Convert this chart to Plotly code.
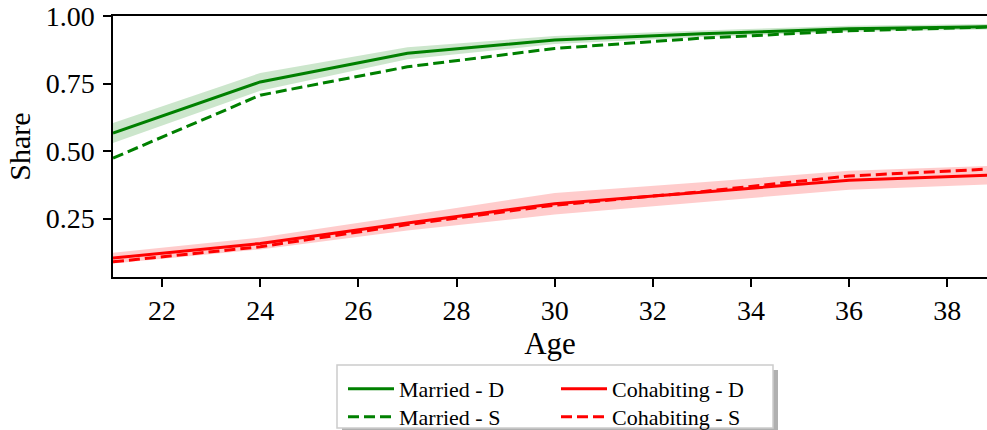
import plotly.graph_objects as go

ages = [21, 24, 27, 30, 33, 36, 39]
married_d = [0.567, 0.756, 0.862, 0.911, 0.934, 0.953, 0.961]
married_d_err = [0.037, 0.033, 0.022, 0.015, 0.012, 0.011, 0.010]
married_s = [0.474, 0.707, 0.812, 0.880, 0.918, 0.945, 0.960]
cohab_d = [0.104, 0.158, 0.234, 0.305, 0.348, 0.392, 0.412]
cohab_d_err = [0.020, 0.022, 0.028, 0.040, 0.037, 0.035, 0.034]
cohab_s = [0.090, 0.146, 0.228, 0.300, 0.350, 0.408, 0.435]

x_range = [21, 38.81]
y_range = [0.034, 1.0]
y_ticks = [0.25, 0.50, 0.75, 1.00]
x_ticks = [22, 24, 26, 28, 30, 32, 34, 36, 38]

GREEN = "#008000"
RED = "#ff0000"
FONT = "Liberation Serif, serif"

fig = go.Figure()


def band(y, err, color):
    upper = [v + e for v, e in zip(y, err)]
    lower = [v - e for v, e in zip(y, err)]
    fig.add_trace(go.Scatter(
        x=ages + ages[::-1], y=upper + lower[::-1],
        fill="toself", fillcolor=color, line=dict(width=0),
        mode="lines", showlegend=False, hoverinfo="skip"))


band(married_d, married_d_err, "rgba(0,128,0,0.2)")
band(cohab_d, cohab_d_err, "rgba(255,0,0,0.2)")

fig.add_trace(go.Scatter(x=ages, y=married_d, mode="lines", name="Married - D",
                         line=dict(color=GREEN, width=3), legend="legend"))
fig.add_trace(go.Scatter(x=ages, y=married_s, mode="lines", name="Married - S",
                         line=dict(color=GREEN, width=3, dash="11px,5px"), legend="legend2"))
fig.add_trace(go.Scatter(x=ages, y=cohab_d, mode="lines", name="Cohabiting - D",
                         line=dict(color=RED, width=3), legend="legend3"))
fig.add_trace(go.Scatter(x=ages, y=cohab_s, mode="lines", name="Cohabiting - S",
                         line=dict(color=RED, width=3, dash="11px,5px"), legend="legend4"))

L, R, T, B = 113, 0, 16, 153
W, H = 987, 430
pw, ph = W - L - R, H - T - B


def px(xp):
    return (xp - L) / pw


def py(yp):
    return (H - B - yp) / ph


# legend frame with shadow
fig.add_shape(type="rect", xref="paper", yref="paper",
              x0=px(342), x1=px(778), y0=py(433), y1=py(370),
              fillcolor="#b0b0b0", line=dict(width=0), layer="above")
fig.add_shape(type="rect", xref="paper", yref="paper",
              x0=px(337), x1=px(773), y0=py(428), y1=py(365),
              fillcolor="white", line=dict(color="#cccccc", width=1.5), layer="above")

legend_common = dict(
    orientation="v", yanchor="top", xanchor="left",
    bgcolor="rgba(0,0,0,0)", borderwidth=0,
    font=dict(family=FONT, size=22, color="black"),
    itemwidth=46, tracegroupgap=0,
)

fig.update_layout(
    width=W, height=H,
    margin=dict(l=L, r=R, t=T, b=B, autoexpand=False),
    paper_bgcolor="white", plot_bgcolor="white",
    font=dict(family=FONT, color="black"),
    legend=dict(x=px(343), y=py(368), **legend_common),
    legend2=dict(x=px(343), y=py(396), **legend_common),
    legend3=dict(x=px(556), y=py(368), **legend_common),
    legend4=dict(x=px(556), y=py(396), **legend_common),
    xaxis=dict(
        range=x_range, tickmode="array", tickvals=x_ticks,
        showline=True, linecolor="black", linewidth=1.5, mirror=True,
        ticks="outside", ticklen=8, tickwidth=1.5, tickcolor="black",
        showgrid=False, zeroline=False,
        tickfont=dict(family=FONT, size=28),
        title=dict(text="Age", font=dict(family=FONT, size=31), standoff=6),
    ),
    yaxis=dict(
        range=y_range, tickmode="array", tickvals=y_ticks, tickformat=".2f",
        showline=True, linecolor="black", linewidth=1.5, mirror=True,
        ticks="outside", ticklen=8, tickwidth=1.5, tickcolor="black",
        ticklabelstandoff=3,
        showgrid=False, zeroline=False,
        tickfont=dict(family=FONT, size=28),
        title=dict(text="Share", font=dict(family=FONT, size=30), standoff=6),
    ),
)

fig.write_html("out.html")
